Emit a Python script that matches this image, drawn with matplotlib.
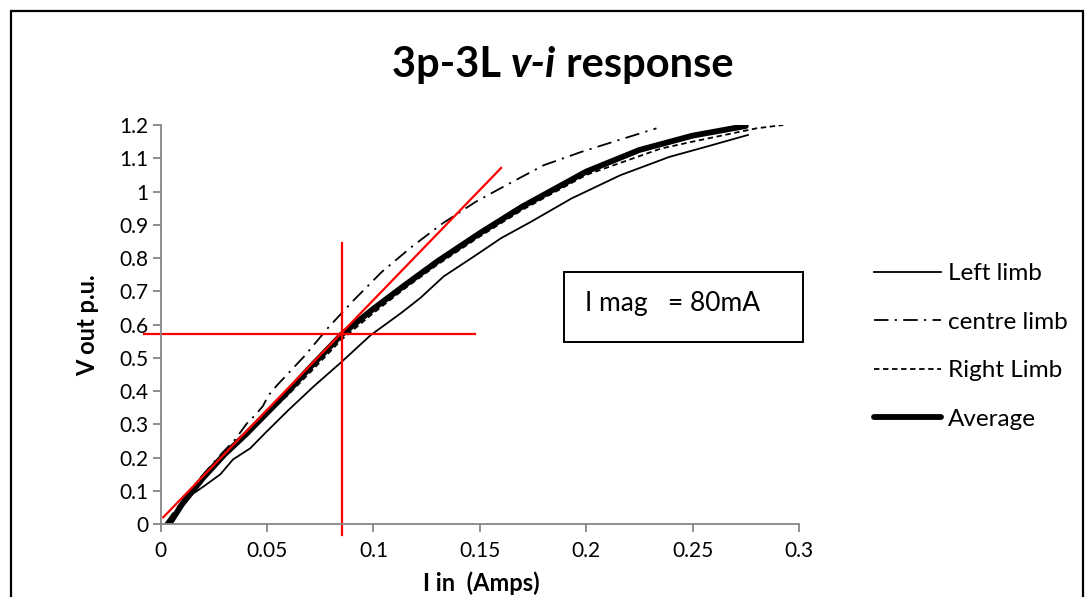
import matplotlib
matplotlib.use("Agg")
import matplotlib.pyplot as plt
from matplotlib.patches import Rectangle

plt.rcParams['font.family'] = ['Lato', 'DejaVu Sans']

# Input current (A) and per-unit output voltage for each limb
left_i = [0.004, 0.008, 0.012, 0.02, 0.028, 0.034, 0.042, 0.05, 0.06, 0.072, 0.085,
          0.0986, 0.113, 0.122, 0.133, 0.147, 0.16, 0.174, 0.193, 0.216, 0.239, 0.256, 0.276]
left_v = [0.0, 0.04, 0.078, 0.113, 0.15, 0.195, 0.228, 0.28, 0.343, 0.415, 0.488,
          0.568, 0.635, 0.68, 0.745, 0.804, 0.86, 0.909, 0.979, 1.049, 1.104, 1.134, 1.17]

centre_i = [0.002, 0.01, 0.02, 0.0287, 0.035, 0.0405, 0.0444, 0.048, 0.0507, 0.0547, 0.0672,
            0.079, 0.0908, 0.104, 0.118, 0.1324, 0.148, 0.1638, 0.18, 0.1976, 0.2149, 0.233]
centre_v = [0.0, 0.07, 0.15, 0.213, 0.255, 0.303, 0.328, 0.355, 0.388, 0.418, 0.503,
            0.593, 0.674, 0.759, 0.834, 0.904, 0.969, 1.024, 1.079, 1.119, 1.154, 1.19]

right_i = [0.003, 0.01, 0.02, 0.03, 0.04, 0.05, 0.06, 0.07, 0.085, 0.1, 0.115, 0.13,
           0.15, 0.17, 0.2, 0.235, 0.25, 0.265, 0.28, 0.2926]
right_v = [0.0, 0.06, 0.135, 0.205, 0.265, 0.33, 0.39, 0.455, 0.555, 0.635, 0.71, 0.78,
           0.865, 0.945, 1.05, 1.129, 1.15, 1.17, 1.19, 1.2]

avg_i = [0.004, 0.01, 0.02, 0.03, 0.04, 0.05, 0.06, 0.07, 0.085, 0.1, 0.115, 0.13,
         0.15, 0.17, 0.2, 0.225, 0.25, 0.275]
avg_v = [0.0, 0.06, 0.14, 0.21, 0.27, 0.335, 0.4, 0.47, 0.57, 0.648, 0.72, 0.79,
         0.875, 0.955, 1.06, 1.125, 1.168, 1.197]

# Operating point cross-hair and tangent line
op_i = 0.085
op_v = 0.571
hline_i = [-0.0079, 0.1478]
vline_v = [-0.032, 0.844]
tangent_i = [0.0012, 0.160]
tangent_v = [0.021, 1.071]

x_ticks = [0, 0.05, 0.1, 0.15, 0.2, 0.25, 0.3]
x_ticklabels = ['0', '0.05', '0.1', '0.15', '0.2', '0.25', '0.3']
y_ticks = [0, 0.1, 0.2, 0.3, 0.4, 0.5, 0.6, 0.7, 0.8, 0.9, 1.0, 1.1, 1.2]
y_ticklabels = ['0', '0.1', '0.2', '0.3', '0.4', '0.5', '0.6', '0.7', '0.8', '0.9', '1', '1.1', '1.2']

W, H = 1086, 597
fig = plt.figure(figsize=(W / 100, H / 100), dpi=100)
ax = fig.add_axes([160.7 / W, 1 - 524.3 / H, (799 - 160.7) / W, (524.3 - 125) / H])

grey = '#868686'
ax.plot(left_i, left_v, color='black', lw=1.3, label='Left limb')
ln_c, = ax.plot(centre_i, centre_v, color='black', lw=1.3, label='centre limb')
ln_c.set_dashes((8, 3.5, 1.2, 3.5))
ln_r, = ax.plot(right_i, right_v, color='black', lw=1.3, label='Right Limb')
ln_r.set_dashes((3.0, 2.0))
ax.plot(avg_i, avg_v, color='black', lw=4.2, label='Average', solid_capstyle='round')

red = '#FF0000'
ax.plot(hline_i, [op_v, op_v], color=red, lw=1.6, clip_on=False)
ax.plot([op_i, op_i], vline_v, color=red, lw=1.6, clip_on=False)
ax.plot(tangent_i, tangent_v, color=red, lw=1.6, clip_on=False)

ax.set_xlim(0, 0.3)
ax.set_ylim(0, 1.2)
ax.set_xticks(x_ticks)
ax.set_xticklabels(x_ticklabels)
ax.set_yticks(y_ticks)
ax.set_yticklabels(y_ticklabels)
for s in ['top', 'right']:
    ax.spines[s].set_visible(False)
for s in ['left', 'bottom']:
    ax.spines[s].set_color(grey)
    ax.spines[s].set_linewidth(1.3)
ax.tick_params(axis='both', direction='out', length=6, width=1.3, color=grey,
               labelsize=15, labelcolor='black')
ax.tick_params(axis='x', pad=6)
ax.tick_params(axis='y', pad=3)

ax.set_xlabel('I in  (Amps)', fontsize=17, fontweight='bold')
ax.xaxis.set_label_coords(481 / W, 1 - 591 / H, transform=fig.transFigure)
ax.xaxis.label.set_va('baseline')
ax.set_ylabel('V out p.u.', fontsize=17, fontweight='bold')
ax.yaxis.set_label_coords(88 / W, 1 - 325 / H, transform=fig.transFigure)
ax.yaxis.label.set_va('center')

# Annotation box
fig.patches.append(Rectangle((564.3 / W, 1 - 342.3 / H), (803.3 - 564.3) / W, (342.3 - 272.3) / H,
                             transform=fig.transFigure, fill=False, edgecolor='black', lw=1.4))
fig.text(585 / W, 1 - 303 / H, 'I mag   = 80mA', fontsize=19, va='center', ha='left')

# Legend
leg = ax.legend(loc='center left', bbox_to_anchor=(862 / W, 1 - 346.5 / H),
                bbox_transform=fig.transFigure, frameon=False, fontsize=17.5,
                handlelength=2.75, handletextpad=0.3, labelspacing=1.13, borderpad=0)

# Title with italic v-i
renderer = fig.canvas.get_renderer()
parts = [('3p-3L ', 'normal'), ('v-i', 'italic'), (' response', 'normal')]
texts = []
for s, st in parts:
    t = fig.text(0, 1 - 77 / H, s, fontsize=30, fontweight='bold', style=st,
                 va='baseline', ha='left')
    texts.append(t)
widths = [t.get_window_extent(renderer).width for t in texts]
total = sum(widths)
x = 563 - total / 2
for t, w in zip(texts, widths):
    t.set_x(x / W)
    x += w

# Outer chart border
fig.patches.append(Rectangle((11 / W, -0.05), (1083 - 11) / W, 1.05 - 11 / H,
                             transform=fig.transFigure, fill=False, edgecolor='black', lw=1.6))

fig.savefig('out.png', dpi=100)
